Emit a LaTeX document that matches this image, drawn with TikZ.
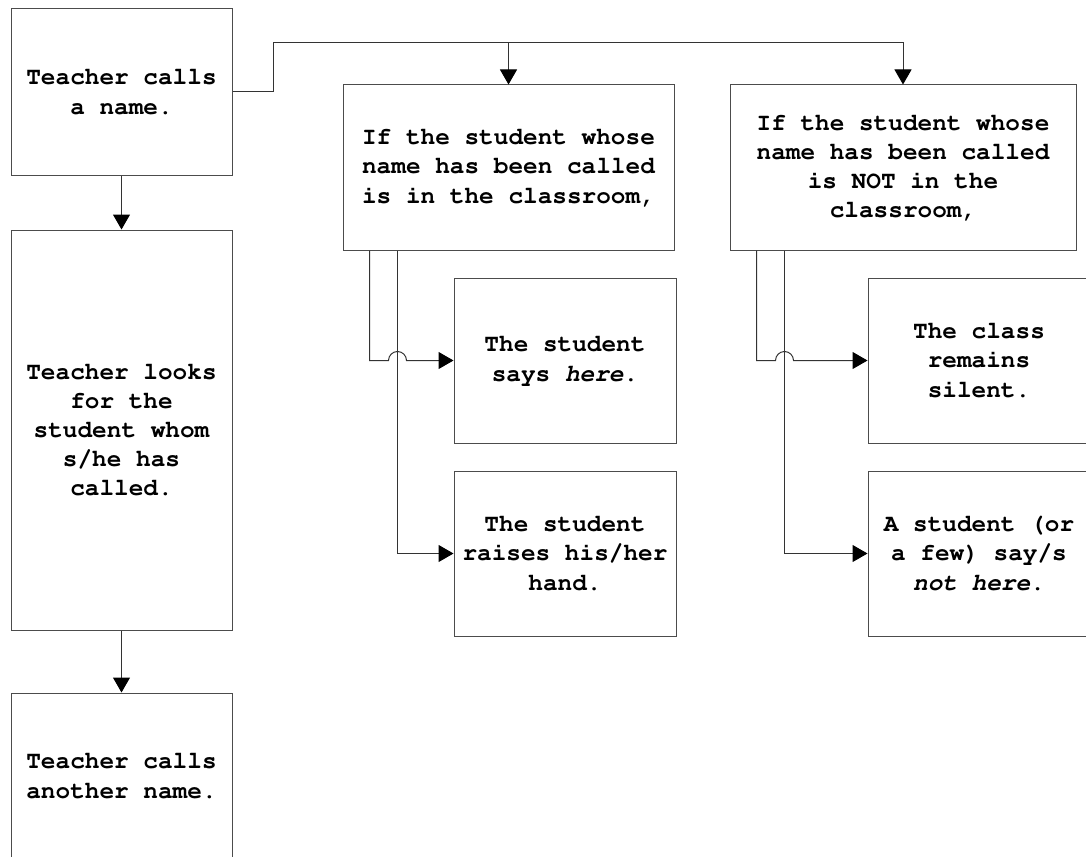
\documentclass[tikz,border=0pt]{standalone}
\usepackage[T1]{fontenc}
\usepackage{courier}
\usetikzlibrary{arrows.meta,calc}
\begin{document}
\begin{tikzpicture}[x=1pt,y=-1pt,
  box/.style={draw=black!70, line width=1pt, fill=white, rectangle, align=center,
    inner sep=0pt, font=\fontsize{24.4}{29.2}\selectfont\ttfamily\bfseries},
  link/.style={draw=black!80, line width=1pt},
  arrow/.style={link, -{Triangle[length=15pt,width=17pt,color=black]}}]
\useasboundingbox (0,0) rectangle (1086,856);
\begin{scope}
\clip (0,0) rectangle (1086,856);
% left column
\node[box, minimum width=221, minimum height=166] (A) at (121.5,92) {Teacher calls\\a name.};
\node[box, minimum width=221, minimum height=400] (B) at (121.5,430) {Teacher looks\\for the\\student whom\\s/he has\\called.};
\node[box, minimum width=221, minimum height=166] (C) at (121.5,776) {Teacher calls\\another name.};
% the two conditions
\node[box, minimum width=331, minimum height=165] (D) at (508.5,167.5) {If the student whose\\name has been called\\is in the classroom,};
\node[box, minimum width=346, minimum height=165] (E) at (903,167.5) {If the student whose\\name has been called\\is NOT in the\\classroom,};
% outcomes
\node[box, minimum width=222, minimum height=165] (F) at (565,360.5) {The student\\says {\itshape here}.};
\node[box, minimum width=222, minimum height=165] (G) at (565,553.5) {The student\\raises his/her\\hand.};
\node[box, minimum width=222, minimum height=165] (H) at (979,360.5) {The class\\remains\\silent.};
\node[box, minimum width=222, minimum height=165] (I) at (979,553.5) {A student (or\\a few) say/s\\{\itshape not here}.};
\end{scope}
% main flow
\draw[arrow] (A.south) -- (B.north);
\draw[arrow] (B.south) -- (C.north);
% branch bus
\coordinate (bus) at (273,43);
\draw[arrow] (A.east) -| (bus) -| (E.north);
\draw[arrow] (D.north |- bus) -- (D.north);
% outcome links of the first condition
\coordinate (d1) at ([xshift=27]D.south west);
\coordinate (d2) at ([xshift=55]D.south west);
\draw[arrow] (d1) |- ($(d2 |- F.west)+(-9,0)$) arc[start angle=180, end angle=360, radius=9] -- (F.west);
\draw[arrow] (d2) |- (G.west);
% outcome links of the second condition
\coordinate (e1) at ([xshift=27]E.south west);
\coordinate (e2) at ([xshift=55]E.south west);
\draw[arrow] (e1) |- ($(e2 |- H.west)+(-9,0)$) arc[start angle=180, end angle=360, radius=9] -- (H.west);
\draw[arrow] (e2) |- (I.west);
\end{tikzpicture}
\end{document}
